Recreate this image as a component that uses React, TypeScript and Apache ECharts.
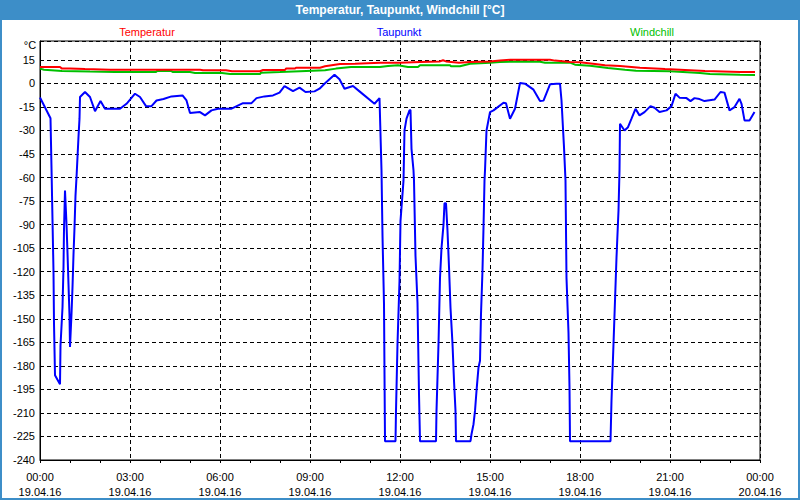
import React, { useEffect, useRef } from "react";
import * as echarts from "echarts";

const chartTitle = "Temperatur, Taupunkt, Windchill [°C]";
const seriesNames = ["Temperatur", "Taupunkt", "Windchill"];
const seriesColors = ["#ff0000", "#0000ff", "#00c000"];

const xTickTimes = ["00:00", "03:00", "06:00", "09:00", "12:00", "15:00", "18:00", "21:00", "00:00"];
const xTickDates = ["19.04.16", "19.04.16", "19.04.16", "19.04.16", "19.04.16", "19.04.16", "19.04.16", "19.04.16", "20.04.16"];

// minutes since 19.04.16 00:00
const tempMinutes = [0, 40, 44, 60, 90, 140, 180, 240, 320, 326, 360, 372, 384, 440, 446, 490, 492, 510, 512, 560, 570, 590, 600, 630, 680, 720, 760, 800, 806, 812, 838, 860, 900, 920, 940, 1020, 1030, 1060, 1080, 1110, 1130, 1160, 1200, 1250, 1290, 1330, 1400, 1430];
const tempValues = [10.4, 10.4, 9.4, 9.4, 9.1, 8.7, 8.7, 8.7, 8.7, 8.3, 8.3, 8.3, 7.7, 7.7, 8.5, 8.5, 9.4, 9.4, 10.0, 10.0, 10.9, 11.9, 12.4, 12.5, 13.2, 13.2, 13.6, 14.0, 14.7, 14.0, 13.2, 13.6, 14.0, 14.5, 15.0, 15.0, 14.5, 13.6, 13.4, 12.3, 11.5, 11.0, 10.0, 9.1, 8.5, 7.9, 7.2, 7.2];

const chillMinutes = [0, 8, 44, 100, 150, 232, 234, 262, 266, 300, 310, 360, 380, 440, 442, 480, 520, 570, 592, 622, 680, 696, 716, 736, 756, 760, 820, 822, 840, 860, 900, 920, 960, 1000, 1010, 1060, 1070, 1100, 1136, 1170, 1192, 1260, 1320, 1340, 1400, 1430];
const chillValues = [9.4, 8.7, 7.9, 7.5, 7.2, 7.2, 7.9, 7.9, 7.2, 7.2, 6.6, 6.8, 5.9, 5.9, 6.8, 7.2, 7.7, 8.3, 9.4, 10.4, 10.4, 11.0, 11.5, 10.4, 10.4, 11.5, 11.5, 10.9, 10.9, 12.5, 13.2, 13.6, 14.0, 13.8, 13.2, 13.2, 11.9, 11.3, 9.8, 8.7, 8.1, 7.7, 6.6, 5.9, 5.5, 5.4];

const dewMinutes = [0, 21, 23, 25, 27, 28, 30, 40, 41, 45, 47, 48, 50, 53, 55, 57, 59, 60, 63, 65, 67, 69, 71, 73, 75, 77, 79, 80, 90, 100, 110, 121, 130, 160, 173, 190, 200, 212, 223, 233, 247, 263, 285, 293, 300, 320, 330, 343, 356, 382, 406, 423, 433, 449, 466, 479, 489, 506, 519, 531, 549, 559, 569, 589, 599, 609, 626, 639, 669, 679, 683, 685, 688, 689, 690, 711, 712, 715, 719, 721, 727, 729, 733, 739, 741, 743, 747, 748, 751, 755, 758, 760, 792, 793, 797, 800, 803, 807, 809, 812, 815, 818, 821, 825, 828, 831, 832, 861, 863, 867, 870, 873, 877, 880, 882, 885, 887, 889, 890, 893, 900, 907, 927, 932, 940, 950, 960, 970, 987, 1000, 1007, 1020, 1033, 1040, 1043, 1048, 1051, 1053, 1057, 1059, 1060, 1141, 1143, 1147, 1150, 1153, 1157, 1159, 1160, 1169, 1176, 1183, 1191, 1199, 1209, 1221, 1229, 1239, 1253, 1263, 1271, 1279, 1293, 1301, 1309, 1319, 1329, 1349, 1361, 1369, 1379, 1389, 1399, 1403, 1409, 1419, 1429];
const dewValues = [-9, -22.2, -54, -87, -120, -153, -186, -191.7, -167, -142.8, -117, -93, -68.3, -89.6, -108, -128, -148, -168, -147, -130, -109, -92, -71.5, -60, -47, -34, -22.5, -8.7, -5.5, -8.7, -17.7, -11.3, -16.2, -16.2, -13, -6.6, -8.7, -14.5, -14.5, -10.9, -10, -8.3, -7.7, -10.9, -18.9, -18.3, -20.4, -17.2, -16.2, -16.2, -12.6, -12.6, -9.4, -8.3, -7.7, -5.9, -1.7, -4.9, -2.7, -5.5, -5.1, -3.4, -0.2, 5.5, 2.6, -3.4, -1.7, -5.1, -13, -9.4, -55.5, -97, -140.6, -185.3, -228, -228, -208.7, -166, -126, -87.6, -62, -30, -22.5, -17.2, -17, -41.7, -55.5, -62, -110, -140, -198, -228, -228, -208.7, -166, -124, -105, -90, -76.4, -76.4, -94, -117, -143, -166, -189.5, -208.7, -228, -228, -223.6, -217.2, -208.7, -196, -181, -176.8, -147, -119, -92, -62, -55.5, -30, -18.3, -17.2, -12.3, -12.6, -22.5, -16.2, 0.2, -0.2, -4, -11.3, -11, -0.6, -0.2, -0.2, -10.9, -40.6, -62, -124, -159, -194, -228, -228, -202, -166, -138.5, -111, -81, -55.5, -25.7, -30, -27.9, -22.5, -16.2, -20.4, -18.3, -14.5, -15.5, -18.3, -17.2, -14.5, -6.6, -9.1, -9.4, -11.3, -9.4, -10, -11.3, -10.3, -5.5, -5.9, -17.2, -15.1, -9.8, -13, -23.6, -23.6, -18.3];

const zip = (xs: number[], ys: number[]) => xs.map((x, i) => [x, ys[i]]);

const FONT = "Liberation Sans";
const FRAME = "#3d8ec8";

export default function App() {
  const ref = useRef<HTMLDivElement>(null);
  useEffect(() => {
    if (!ref.current) return;
    const chart = echarts.init(ref.current, null, { renderer: "svg" });
    const legendX = [147, 399, 652];
    chart.setOption({
      animation: false,
      backgroundColor: "#ffffff",
      textStyle: { fontFamily: FONT },
      grid: { left: 40, right: 40, top: 41, bottom: 40, show: true, borderColor: "#000", borderWidth: 1, backgroundColor: "transparent" },
      xAxis: {
        type: "value",
        min: 0,
        max: 1440,
        interval: 180,
        axisLine: { show: true, onZero: false, lineStyle: { color: "#000", width: 1 } },
        axisTick: { show: true, length: 3, lineStyle: { color: "#000" } },
        minorTick: { show: true, splitNumber: 3, length: 3, lineStyle: { color: "#000" } },
        splitLine: { show: true, lineStyle: { color: "#000", type: [4, 3], width: 1 } },
        axisLabel: {
          color: "#000",
          fontFamily: FONT,
          fontSize: 11,
          lineHeight: 15,
          margin: 9,
          formatter: (v: number) => {
            const i = Math.round(v / 180);
            return xTickTimes[i] + "\n" + xTickDates[i];
          },
        },
      },
      yAxis: {
        type: "value",
        min: -240,
        max: 27,
        interval: 15,
        axisLine: { show: true, onZero: false, lineStyle: { color: "#000", width: 1 } },
        axisTick: { show: false },
        splitLine: { show: true, lineStyle: { color: "#000", type: [4, 3], width: 1 } },
        axisLabel: {
          color: "#000",
          fontFamily: FONT,
          fontSize: 11,
          margin: 5,
          showMaxLabel: false,
          formatter: (v: number) => (v % 15 === 0 ? String(v) : ""),
        },
      },
      series: [
        {
          name: seriesNames[2],
          type: "line",
          data: zip(chillMinutes, chillValues),
          showSymbol: false,
          lineStyle: { color: seriesColors[2], width: 2 },
          itemStyle: { color: seriesColors[2] },
        },
        {
          name: seriesNames[0],
          type: "line",
          data: zip(tempMinutes, tempValues),
          showSymbol: false,
          lineStyle: { color: seriesColors[0], width: 2 },
          itemStyle: { color: seriesColors[0] },
        },
        {
          name: seriesNames[1],
          type: "line",
          data: zip(dewMinutes, dewValues),
          showSymbol: false,
          lineStyle: { color: seriesColors[1], width: 2 },
          itemStyle: { color: seriesColors[1] },
        },
      ],
      graphic: [
        { type: "rect", shape: { x: 0, y: 0, width: 800, height: 20 }, style: { fill: FRAME }, z: 10 },
        {
          type: "text",
          x: 400,
          y: 10,
          style: { text: chartTitle, fill: "#fff", font: `bold 12px "${FONT}"`, textAlign: "center", textVerticalAlign: "middle" },
          z: 11,
        },
        { type: "rect", shape: { x: 1, y: 1, width: 798, height: 498 }, style: { fill: "none", stroke: FRAME, lineWidth: 2 }, z: 10 },
        ...seriesNames.map((n, i) => ({
          type: "text",
          x: legendX[i],
          y: 32,
          style: { text: n, fill: seriesColors[i], font: `11px "${FONT}"`, textAlign: "center", textVerticalAlign: "middle" },
        })),
        {
          type: "text",
          x: 30,
          y: 45,
          style: { text: "°C", fill: "#000", font: `11px "${FONT}"`, textAlign: "center", textVerticalAlign: "middle" },
        },
      ],
    });
    return () => chart.dispose();
  }, []);
  return <div ref={ref} style={{ position: "fixed", left: 0, top: 0, width: 800, height: 500 }} />;
}
